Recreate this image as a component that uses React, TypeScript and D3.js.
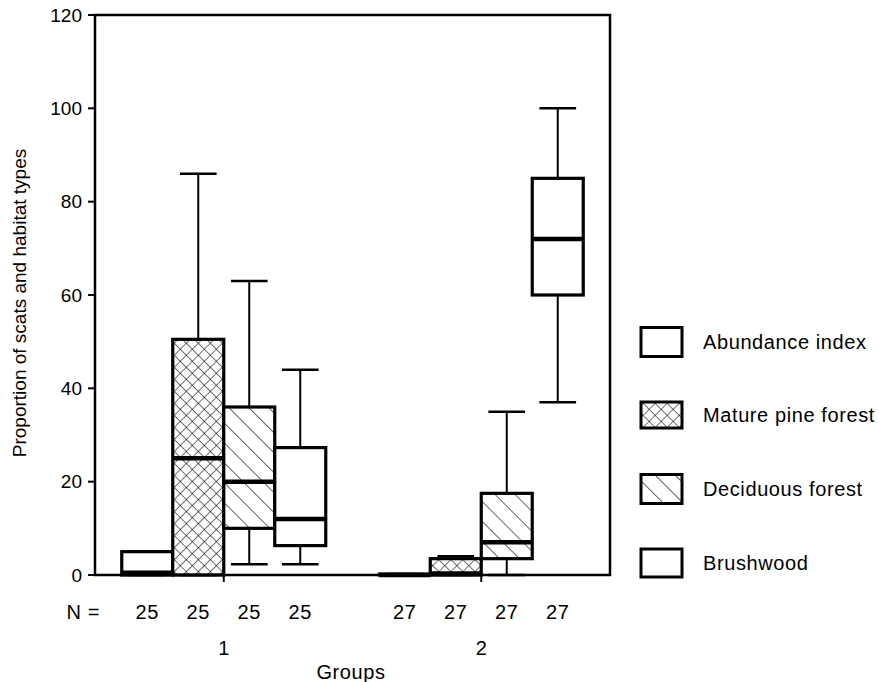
import React from "react";
import * as d3 from "d3";

const categories = ["Abundance index", "Mature pine forest", "Deciduous forest", "Brushwood"];
const fills = ["none", "cross", "diag", "none"];
const groups = ["1", "2"];
const nCounts = [
  [25, 25, 25, 25],
  [27, 27, 27, 27],
];
// [min, q1, median, q3, max] per category, per group
const group1Stats = [
  [0, 0, 0.5, 5, 5],
  [0, 0, 25, 50.5, 86],
  [2.3, 10, 20, 36, 63],
  [2.3, 6.3, 12, 27.3, 44],
];
const group2Stats = [
  [0, 0, 0, 0.2, 0.2],
  [0, 0, 0.3, 3.5, 4],
  [0, 3.5, 7, 17.5, 35],
  [37, 60, 72, 85, 100],
];
const yTicks = [0, 20, 40, 60, 80, 100, 120];

const W = 879;
const H = 682;
const left = 95;
const right = 610;
const top = 15;
const bottom = 575;
const FONT = "'Liberation Sans', Arial, Helvetica, sans-serif";
const FS = 19;
const FL = 20;
const LS = 0.6;

export default function App() {
  const y = d3.scaleLinear().domain([0, 120]).range([bottom, top]);
  const xG = d3.scalePoint<string>().domain(groups).range([left, right]).padding(0.5);
  const xC = d3.scaleBand<string>().domain(categories).range([-102, 102]).padding(0);
  const bw = xC.bandwidth();
  const capW = bw * 0.72;
  const allStats = [group1Stats, group2Stats];

  const fillFor = (f: string) =>
    f === "cross" ? "url(#crossHatch)" : f === "diag" ? "url(#diagHatch)" : "#fff";

  const legendY = [342, 415, 489, 563];
  const legendH = [29, 26, 29, 28];

  return (
    <svg width={W} height={H} style={{ position: "absolute", left: 0, top: 0, background: "#fff" }}
      fontFamily={FONT}>
      <defs>
        <pattern id="crossHatch" patternUnits="userSpaceOnUse" width={8.5} height={8.5}
          patternTransform="rotate(45)">
          <rect width={8.5} height={8.5} fill="#fff" />
          <line x1={0} y1={0} x2={0} y2={8.5} stroke="#000" strokeWidth={1.1} />
          <line x1={0} y1={0} x2={8.5} y2={0} stroke="#000" strokeWidth={1.1} />
        </pattern>
        <pattern id="diagHatch" patternUnits="userSpaceOnUse" width={14.1} height={14.1}
          patternTransform="rotate(-45)">
          <rect width={14.1} height={14.1} fill="#fff" />
          <line x1={0} y1={0} x2={0} y2={14.1} stroke="#000" strokeWidth={1.2} />
        </pattern>
      </defs>
      <rect x={0} y={0} width={W} height={H} fill="#fff" />

      {/* boxes */}
      {groups.map((g, gi) =>
        categories.map((c, ci) => {
          const [mn, q1, md, q3, mx] = allStats[gi][ci];
          const x0 = (xG(g) as number) + (xC(c) as number);
          const cx = x0 + bw / 2;
          return (
            <g key={g + c}>
              <line x1={cx} x2={cx} y1={y(q3)} y2={y(mx)} stroke="#000" strokeWidth={2} />
              <line x1={cx - capW / 2} x2={cx + capW / 2} y1={y(mx)} y2={y(mx)} stroke="#000" strokeWidth={2.5} />
              <line x1={cx} x2={cx} y1={y(q1)} y2={y(mn)} stroke="#000" strokeWidth={2} />
              <line x1={cx - capW / 2} x2={cx + capW / 2} y1={y(mn)} y2={y(mn)} stroke="#000" strokeWidth={2.5} />
              <rect x={x0} y={y(q3)} width={bw} height={y(q1) - y(q3)} fill={fillFor(fills[ci])}
                stroke="#000" strokeWidth={3.2} />
              <line x1={x0} x2={x0 + bw} y1={y(md)} y2={y(md)} stroke="#000" strokeWidth={4.5} />
            </g>
          );
        })
      )}

      {/* frame */}
      <rect x={left} y={top} width={right - left} height={bottom - top} fill="none" stroke="#000" strokeWidth={2.5} />
      {yTicks.map((t) => (
        <g key={t}>
          <line x1={left - 7} x2={left} y1={y(t)} y2={y(t)} stroke="#000" strokeWidth={2} />
          <text x={left - 13} y={y(t)} dy="0.35em" textAnchor="end" fontSize={FS}>{t}</text>
        </g>
      ))}
      {groups.map((g) => (
        <g key={g}>
          <line x1={xG(g)} x2={xG(g)} y1={bottom} y2={bottom + 7} stroke="#000" strokeWidth={2} />
          <text x={xG(g)} y={648} dy="0.35em" textAnchor="middle" fontSize={FL}>{g}</text>
        </g>
      ))}
      <text x={100} y={612} dy="0.35em" textAnchor="end" fontSize={FL} letterSpacing={LS}>N =</text>
      {groups.map((g, gi) =>
        categories.map((c, ci) => (
          <text key={g + c} x={(xG(g) as number) + (xC(c) as number) + bw / 2} y={612} dy="0.35em"
            textAnchor="middle" fontSize={FL} letterSpacing={LS}>{nCounts[gi][ci]}</text>
        ))
      )}
      <text x={351} y={672} dy="0.35em" textAnchor="middle" fontSize={FL} letterSpacing={LS}>Groups</text>
      <text transform={`translate(19,${(top + bottom) / 2 + 8}) rotate(-90)`} dy="0.35em" textAnchor="middle"
        fontSize={FS}>Proportion of scats and habitat types</text>

      {/* legend */}
      {categories.map((c, i) => (
        <g key={c}>
          <rect x={641} y={legendY[i] - legendH[i] / 2} width={41} height={legendH[i]}
            fill={fillFor(fills[i])} stroke="#000" strokeWidth={3} />
          <text x={703} y={legendY[i]} dy="0.35em" fontSize={FL} letterSpacing={LS}>{c}</text>
        </g>
      ))}
    </svg>
  );
}
